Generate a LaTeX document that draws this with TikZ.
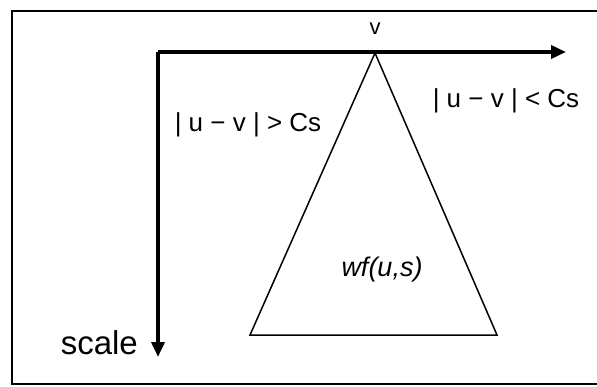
\documentclass[tikz,border=0pt]{standalone}
\usepackage{fontspec}
\setmainfont{Liberation Sans}
\usetikzlibrary{arrows.meta}
\begin{document}
\begin{tikzpicture}[x=1pt,y=-1pt,
  frameline/.style={line width=2.8pt},
  axisline/.style={line width=3.6pt,-{Triangle[length=15pt,width=13pt]}},
  triline/.style={line width=1.5pt,line join=miter},
  lbl/.style={inner sep=0pt,font=\fontsize{26}{30}\selectfont}]
\useasboundingbox (0,0) rectangle (597,387);
% frame
\coordinate (ftr) at (597,11);
\coordinate (ftl) at (12,11);
\coordinate (fbl) at (12,384);
\coordinate (fbr) at (597,384);
\draw[frameline] (ftr) -- (ftl) -- (fbl) -- (fbr);
% axes
\coordinate (O) at (158,52);
\coordinate (xend) at (566,52);
\coordinate (yend) at (158,357);
\draw[axisline] (O) -- (xend);
\draw[axisline] (O) -- (yend);
% triangle
\coordinate (apex) at (375,53);
\coordinate (bl) at (250,335);
\coordinate (br) at (497,335);
\draw[triline] (apex) -- (bl) -- (br) -- cycle;
% labels
\node[lbl,font=\fontsize{22}{26}\selectfont] (v) at (375,29) {v};
\node[lbl] (gt) at (248,125) {| u − v | > Cs};
\node[lbl] (lt) at (506,101) {| u − v | < Cs};
\node[lbl,font=\fontsize{27}{30}\selectfont\itshape] (wf) at (382,270) {wf(u,s)};
\node[lbl,font=\fontsize{33}{36}\selectfont,anchor=east] (scale) at (138,343) {scale};
\end{tikzpicture}
\end{document}
